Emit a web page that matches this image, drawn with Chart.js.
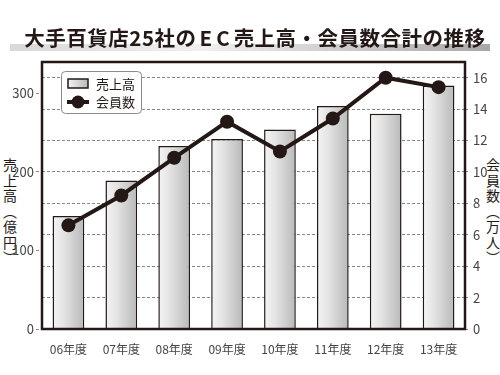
<!DOCTYPE html>
<html>
<head>
<meta charset="utf-8">
<script src="https://cdn.jsdelivr.net/npm/chart.js@4"></script>
<style>
  body { margin: 0; background: #fff; }
  #wrap { position: relative; width: 500px; height: 375px; font-family: "Noto Sans CJK JP", sans-serif; }
  #title { position: absolute; left: 0; top: 23px; width: 510px; text-align: center; font-size: 20.5px; font-weight: bold; color: #231815; letter-spacing: 0.5px; line-height: 28px; z-index: 2; }
  #title .ec { letter-spacing: 4px; padding-left: 3px; }
  #band { position: absolute; left: 10px; top: 44px; width: 480px; height: 7px; background: linear-gradient(to right, #d8d8d8, #f0f0f0 40%, #a8a8a8); z-index: 1; }
  .vt { position: absolute; writing-mode: vertical-rl; font-size: 14px; color: #231815; line-height: 15px; letter-spacing: 1.5px; }
  #yl { left: 2px; top: 158px; }
  #yr { left: 485px; top: 158px; }
  canvas { position: absolute; left: 0; top: 0; }
</style>
</head>
<body>
<div id="wrap">
  <div id="band"></div>
  <div id="title">大手百貨店25社の<span class="ec">EC</span>売上高・会員数合計の推移</div>
  <div class="vt" id="yl">売上高（億円）</div>
  <div class="vt" id="yr">会員数（万人）</div>
  <canvas id="myChart" width="500" height="375"></canvas>
</div>
<script>
const years = ['06年度', '07年度', '08年度', '09年度', '10年度', '11年度', '12年度', '13年度'];
const sales = [144, 189, 233, 242, 254, 284, 274, 310];   // 億円
const members = [6.6, 8.5, 10.9, 13.2, 11.3, 13.4, 16.0, 15.4]; // 万人
const leftTicks = [0, 100, 200, 300];

const ink = '#231815';

/* 棒グラフのグラデーション（要素ごと） */
const barShade = {
  id: 'barShade',
  beforeDatasetsDraw(chart) {
    const c = chart.ctx;
    chart.getDatasetMeta(0).data.forEach(el => {
      const g = c.createLinearGradient(el.x - el.width / 2, 0, el.x + el.width / 2, 0);
      g.addColorStop(0, '#f4f4f4');
      g.addColorStop(0.35, '#e4e4e4');
      g.addColorStop(1, '#b9b9b9');
      el.options.backgroundColor = g;
    });
  }
};

/* 枠線と凡例 */
const frame = {
  id: 'frame',
  afterDraw(chart) {
    const c = chart.ctx, a = chart.chartArea;
    c.save();
    c.strokeStyle = ink;
    c.lineWidth = 2.5;
    c.strokeRect(a.left, a.top, a.right - a.left, a.bottom - a.top);

    // legend box
    const bx = 61, by = 71, bw = 80, bh = 42;
    c.beginPath();
    c.roundRect(bx + 0.5, by + 0.5, bw, bh, 4);
    c.fillStyle = '#fff';
    c.fill();
    c.strokeStyle = '#8a8a8a';
    c.lineWidth = 1;
    c.stroke();

    const g = c.createLinearGradient(68, 0, 88, 0);
    g.addColorStop(0, '#f4f4f4');
    g.addColorStop(1, '#b9b9b9');
    c.fillStyle = g;
    c.fillRect(68, 79, 20, 9);
    c.strokeStyle = ink;
    c.lineWidth = 1.5;
    c.strokeRect(68, 79, 20, 9);

    c.beginPath();
    c.moveTo(67, 102);
    c.lineTo(89, 102);
    c.lineWidth = 4;
    c.stroke();
    c.beginPath();
    c.arc(78, 102, 6.5, 0, Math.PI * 2);
    c.fillStyle = ink;
    c.fill();

    c.fillStyle = ink;
    c.font = '13px "Noto Sans CJK JP"';
    c.textBaseline = 'middle';
    c.fillText(chart.data.datasets[0].label, 96, 84);
    c.fillText(chart.data.datasets[1].label, 96, 102);
    c.restore();
  }
};

const tickFont = { family: '"Noto Sans CJK JP"', size: 12 };
const numFont = { family: '"Noto Sans CJK JP"', size: 13 };

new Chart(document.getElementById('myChart'), {
  data: {
    labels: years,
    datasets: [{
      type: 'bar',
      label: '売上高',
      data: sales,
      yAxisID: 'y',
      backgroundColor: ctx => '#dddddd', // scriptable so every bar gets its own options
      borderColor: ink,
      borderWidth: 1.5,
      barPercentage: 0.6,
      categoryPercentage: 1,
      order: 1
    }, {
      type: 'line',
      label: '会員数',
      data: members,
      yAxisID: 'y2',
      borderColor: ink,
      borderWidth: 4,
      pointRadius: 7,
      pointBackgroundColor: ink,
      pointBorderWidth: 0,
      tension: 0,
      order: 0
    }]
  },
  options: {
    responsive: false,
    animation: false,
    layout: { padding: { top: 62 } },
    plugins: { legend: { display: false }, tooltip: { enabled: false } },
    scales: {
      x: {
        grid: { display: false },
        border: { display: false },
        ticks: { color: '#444', font: tickFont, padding: 5 },
        afterFit: s => { s.height = 46; }
      },
      y: {
        position: 'left',
        min: 0, max: 340,
        afterBuildTicks: s => { s.ticks = leftTicks.map(v => ({ value: v })); },
        grid: { drawOnChartArea: false, tickLength: 6, color: '#888', tickBorderDash: [3, 2] },
        border: { display: false },
        ticks: { color: '#444', font: numFont, padding: 2 },
        afterFit: s => { s.width = 42; }
      },
      y2: {
        position: 'right',
        min: 0, max: 17,
        ticks: {
          stepSize: 1, color: '#444', font: numFont, padding: 3,
          callback: v => (v % 2 === 0 ? v : '')
        },
        grid: { color: '#888', lineWidth: 1, tickLength: 5, tickBorderDash: [3, 2] },
        border: { display: false, dash: [3, 2] },
        afterFit: s => { s.width = 35; }
      }
    }
  },
  plugins: [barShade, frame]
});
</script>
</body>
</html>
